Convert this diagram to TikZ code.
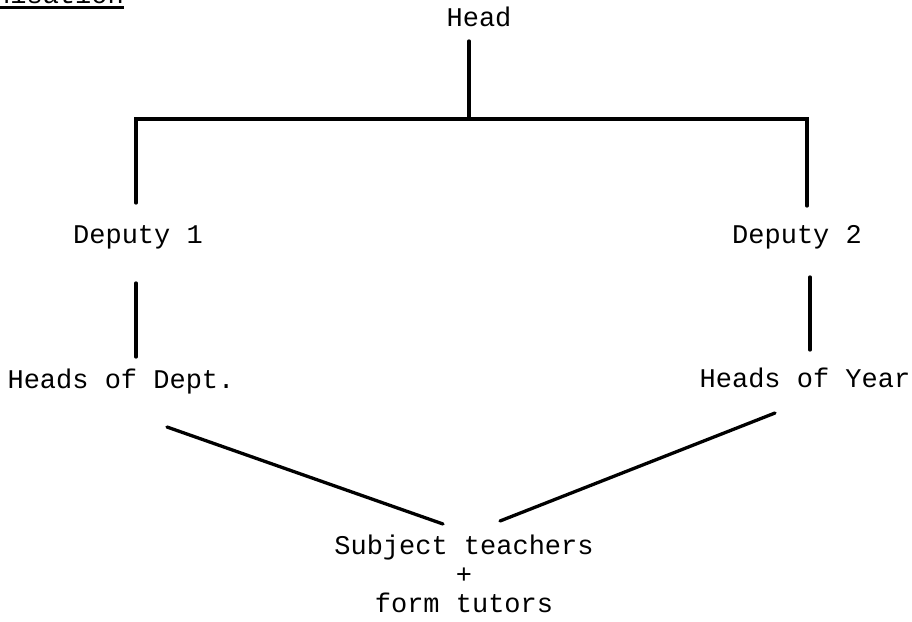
\documentclass[tikz,border=0pt]{standalone}
\usepackage{fontspec}
\setmainfont{Liberation Mono}
\tikzset{
  lbl/.style={inner sep=0pt, anchor=base, font=\fontsize{27}{28}\selectfont},
  link/.style={line width=3.3pt, line cap=round, line join=miter}
}
\begin{document}
\begin{tikzpicture}[x=1pt,y=-1pt]
\useasboundingbox (0,0) rectangle (912,621);
% cropped heading at top-left
\begin{scope}
\clip (0,0) rectangle (912,621);
\node[lbl, anchor=base east] (title) at (124,3) {Organisation};
\end{scope}
\draw[line width=2.2pt] (0,7.5) -- (124,7.5);
% nodes
\node[lbl] (head) at (479,27) {Head};
\node[lbl] (dep1) at (138,243) {Deputy 1};
\node[lbl] (dep2) at (797,243) {Deputy 2};
\node[lbl] (hod) at (121,388) {Heads of Dept.};
\node[lbl] (hoy) at (805,387) {Heads of Year};
\node[lbl, align=center, anchor=north] (st) at (464,535)
  {Subject teachers\\[1pt]+\\[1pt]form tutors};
% connection points
\coordinate (ht) at (469,41);
\coordinate (hb) at (469,119);
\coordinate (lt) at (136,119);
\coordinate (lb) at (136,203);
\coordinate (rt) at (807,119);
\coordinate (rb) at (807,206);
\coordinate (l2t) at (136,283);
\coordinate (l2b) at (136,357);
\coordinate (r2t) at (810,277);
\coordinate (r2b) at (810,350);
\coordinate (dl) at (167,427);
\coordinate (dr) at (443,524);
\coordinate (yl) at (775,413);
\coordinate (yr) at (500,521);
% connectors
\draw[link] (ht) -- (hb);
\draw[link] (lb) -- (lt) -- (rt) -- (rb);
\draw[link] (l2t) -- (l2b);
\draw[link] (r2t) -- (r2b);
\draw[link] (dl) -- (dr);
\draw[link] (yl) -- (yr);
\end{tikzpicture}
\end{document}
